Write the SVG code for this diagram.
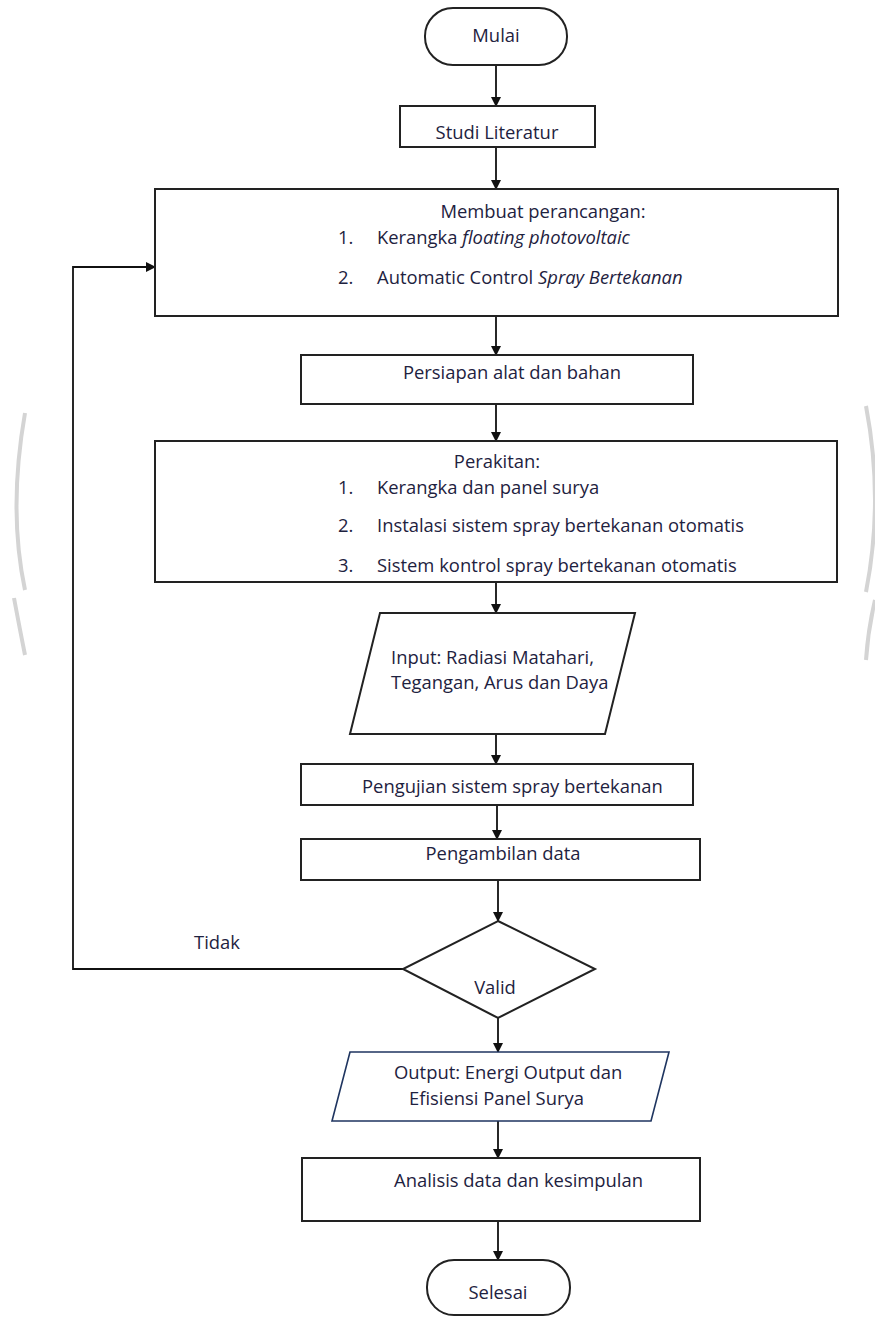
<svg xmlns="http://www.w3.org/2000/svg" width="875" height="1318" viewBox="0 0 875 1318">
<defs>
<marker id="ah" markerWidth="10" markerHeight="10" refX="9" refY="5" orient="auto" markerUnits="userSpaceOnUse">
<path d="M0,0 L10,5 L0,10 Z" fill="#111"/>
</marker>
<style>
.shape{fill:#fff;stroke:#222;stroke-width:2}
.io2{fill:#fff;stroke:#1f3560;stroke-width:1.6}
.t{font-family:"Open Sans","Noto Sans","Liberation Sans",sans-serif;font-size:18.4px;fill:#1e2240}
.c{text-anchor:middle}
.ln{fill:none;stroke:#111;stroke-width:1.8}
.wm{fill:none;stroke:#d4d4d4;stroke-width:4}
</style>
</defs>
<rect width="875" height="1318" fill="#fff"/>
<g id="watermark">
<path class="wm" d="M25,413 Q8,510 25,590"/>
<path class="wm" d="M14,598 Q20,630 25,655"/>
<path class="wm" d="M866,406 Q884,500 866,592"/>
<path class="wm" d="M875,600 Q868,630 866,660"/>
</g>
<g id="connectors">
<line class="ln" x1="496" y1="65" x2="496" y2="106" marker-end="url(#ah)"/>
<line class="ln" x1="496" y1="147" x2="496" y2="189" marker-end="url(#ah)"/>
<line class="ln" x1="496" y1="316" x2="496" y2="355" marker-end="url(#ah)"/>
<line class="ln" x1="496" y1="404" x2="496" y2="441" marker-end="url(#ah)"/>
<line class="ln" x1="496" y1="582" x2="496" y2="613" marker-end="url(#ah)"/>
<line class="ln" x1="496" y1="734" x2="496" y2="764" marker-end="url(#ah)"/>
<line class="ln" x1="497" y1="805" x2="497" y2="839" marker-end="url(#ah)"/>
<line class="ln" x1="498" y1="880" x2="498" y2="921" marker-end="url(#ah)"/>
<line class="ln" x1="498" y1="1018" x2="498" y2="1052" marker-end="url(#ah)"/>
<line class="ln" x1="498" y1="1121" x2="498" y2="1158" marker-end="url(#ah)"/>
<line class="ln" x1="498" y1="1221" x2="498" y2="1260" marker-end="url(#ah)"/>
<polyline class="ln" points="403,969 73,969 73,267 155,267" marker-end="url(#ah)"/>
<text class="t" x="194" y="949">Tidak</text>
</g>
<g id="mulai">
<rect class="shape" x="425" y="8" width="142" height="57" rx="28" ry="28"/>
<text class="t c" x="496" y="42">Mulai</text>
</g>
<g id="studi">
<rect class="shape" x="400" y="106" width="195" height="41"/>
<text class="t c" x="497" y="139">Studi Literatur</text>
</g>
<g id="perancangan">
<rect class="shape" x="155" y="189" width="683" height="127"/>
<text class="t c" x="543" y="218">Membuat perancangan:</text>
<text class="t" x="338" y="244">1.</text>
<text class="t" x="377" y="244">Kerangka <tspan font-style="italic">floating photovoltaic</tspan></text>
<text class="t" x="338" y="284">2.</text>
<text class="t" x="377" y="284">Automatic Control <tspan font-style="italic">Spray Bertekanan</tspan></text>
</g>
<g id="persiapan">
<rect class="shape" x="301" y="355" width="392" height="49"/>
<text class="t c" x="512" y="379">Persiapan alat dan bahan</text>
</g>
<g id="perakitan">
<rect class="shape" x="155" y="441" width="682" height="141"/>
<text class="t c" x="497" y="468">Perakitan:</text>
<text class="t" x="338" y="494">1.</text>
<text class="t" x="377" y="494">Kerangka dan panel surya</text>
<text class="t" x="338" y="532">2.</text>
<text class="t" x="377" y="532">Instalasi sistem spray bertekanan otomatis</text>
<text class="t" x="338" y="572">3.</text>
<text class="t" x="377" y="572">Sistem kontrol spray bertekanan otomatis</text>
</g>
<g id="input">
<polygon class="shape" points="380,613 635,613 605,734 350,734"/>
<text class="t" x="391" y="664">Input: Radiasi Matahari,</text>
<text class="t" x="391" y="689">Tegangan, Arus dan Daya</text>
</g>
<g id="pengujian">
<rect class="shape" x="301" y="764" width="392" height="41"/>
<text class="t" x="362" y="793">Pengujian sistem spray bertekanan</text>
</g>
<g id="pengambilan">
<rect class="shape" x="301" y="839" width="399" height="41"/>
<text class="t c" x="503" y="860">Pengambilan data</text>
</g>
<g id="valid">
<polygon class="shape" points="498,921 595,969 498,1018 403,969"/>
<text class="t c" x="495" y="994">Valid</text>
</g>
<g id="output">
<polygon class="io2" points="350,1052 669,1052 651,1121 332,1121"/>
<text class="t" x="394" y="1079">Output: Energi Output dan</text>
<text class="t" x="409" y="1105">Efisiensi Panel Surya</text>
</g>
<g id="analisis">
<rect class="shape" x="302" y="1158" width="398" height="63"/>
<text class="t" x="394" y="1187">Analisis data dan kesimpulan</text>
</g>
<g id="selesai">
<rect class="shape" x="427" y="1260" width="143" height="55" rx="27" ry="27"/>
<text class="t c" x="498" y="1299">Selesai</text>
</g>
</svg>
